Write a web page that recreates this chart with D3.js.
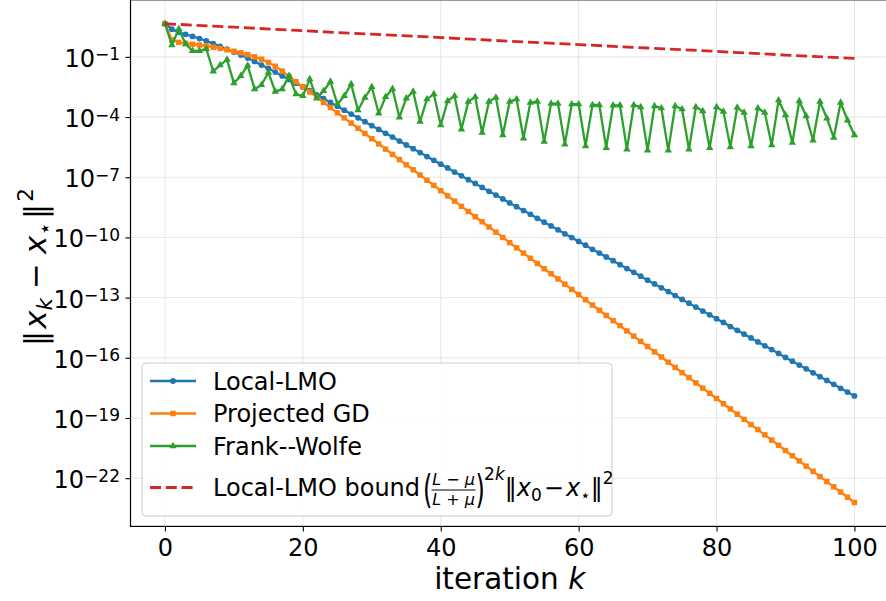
<!DOCTYPE html>
<html>
<head>
<meta charset="utf-8">
<script src="https://cdn.jsdelivr.net/npm/d3@7"></script>
<style>
  body { margin: 0; background: #fff; }
  svg { display: block; font-family: "DejaVu Sans", sans-serif; }
</style>
</head>
<body>
<svg id="chart" width="886" height="601"></svg>
<script>
// ---------------- DATA (log10 of ||x_k - x*||^2) ----------------
const iterations = d3.range(0, 101);

const localLmoLog10 = [
  0.65, 0.38, 0.22, 0.12, 0.02, -0.09, -0.21, -0.34, -0.48, -0.62,
  -0.76, -0.91, -1.06, -1.23, -1.41, -1.58, -1.76, -1.95, -2.13, -2.31,
  -2.50, -2.69, -2.89, -3.08, -3.27, -3.46, -3.66, -3.85, -4.04, -4.23,
  -4.43, -4.62, -4.81, -5.00, -5.20, -5.39, -5.58, -5.77, -5.97, -6.16,
  -6.35, -6.54, -6.74, -6.93, -7.12, -7.31, -7.51, -7.70, -7.89, -8.08,
  -8.28, -8.47, -8.66, -8.85, -9.05, -9.24, -9.43, -9.62, -9.82, -10.01,
  -10.20, -10.39, -10.59, -10.78, -10.97, -11.16, -11.36, -11.55, -11.74, -11.93,
  -12.13, -12.32, -12.51, -12.70, -12.90, -13.09, -13.28, -13.47, -13.67, -13.86,
  -14.05, -14.24, -14.44, -14.63, -14.82, -15.01, -15.21, -15.40, -15.59, -15.78,
  -15.98, -16.17, -16.36, -16.55, -16.75, -16.94, -17.13, -17.32, -17.52, -17.71,
  -17.90
];

const projectedGdLog10 = [
  0.65, -0.16, -0.28, -0.33, -0.37, -0.41, -0.46, -0.52, -0.58, -0.65,
  -0.72, -0.80, -0.89, -1.00, -1.12, -1.28, -1.47, -1.71, -1.98, -2.24,
  -2.49, -2.75, -3.01, -3.27, -3.53, -3.79, -4.04, -4.30, -4.56, -4.82,
  -5.08, -5.34, -5.60, -5.86, -6.12, -6.38, -6.63, -6.89, -7.15, -7.41,
  -7.67, -7.93, -8.19, -8.45, -8.71, -8.97, -9.22, -9.48, -9.74, -10.00,
  -10.26, -10.52, -10.78, -11.04, -11.30, -11.56, -11.81, -12.07, -12.33, -12.59,
  -12.85, -13.11, -13.37, -13.63, -13.89, -14.15, -14.40, -14.66, -14.92, -15.18,
  -15.44, -15.70, -15.96, -16.22, -16.48, -16.74, -16.99, -17.25, -17.51, -17.77,
  -18.03, -18.29, -18.55, -18.81, -19.07, -19.33, -19.58, -19.84, -20.10, -20.36,
  -20.62, -20.88, -21.14, -21.40, -21.66, -21.92, -22.17, -22.43, -22.69, -22.95,
  -23.21
];

const frankWolfeLog10 = [
  0.65, -0.41, 0.39, -0.36, -0.70, -0.70, -0.61, -1.72, -1.41, -1.14,
  -2.31, -1.95, -1.43, -2.61, -2.40, -1.78, -2.73, -2.61, -1.95, -2.86,
  -2.95, -2.11, -3.07, -2.70, -2.23, -3.36, -2.95, -2.36, -3.66, -3.03,
  -2.50, -3.82, -3.00, -2.59, -4.01, -3.07, -2.73, -4.23, -3.11, -2.86,
  -4.40, -3.20, -2.95, -4.61, -3.23, -3.00, -4.78, -3.23, -3.03, -4.90,
  -3.23, -3.11, -5.06, -3.28, -3.23, -5.23, -3.33, -3.33, -5.36, -3.36,
  -3.36, -5.45, -3.40, -3.40, -5.53, -3.42, -3.42, -5.61, -3.40, -3.50,
  -5.66, -3.45, -3.56, -5.66, -3.45, -3.61, -5.61, -3.50, -3.70, -5.53,
  -3.50, -3.73, -5.50, -3.53, -3.78, -5.45, -3.56, -3.78, -5.40, -3.16,
  -3.90, -5.28, -3.20, -3.95, -5.16, -3.23, -4.06, -5.03, -3.28, -4.16,
  -4.90
];

// bound line (straight on the log axis) read at every 10 iterations
const boundIterations = [0, 10, 20, 30, 40, 50, 60, 70, 80, 90, 100];
const boundLog10 = [0.65, 0.48, 0.30, 0.13, -0.04, -0.22, -0.39, -0.56, -0.73, -0.91, -1.08];

const xTickValues = [0, 20, 40, 60, 80, 100];
const yTickExponents = [-22, -19, -16, -13, -10, -7, -4, -1];

const seriesNames = ["Local-LMO", "Projected GD", "Frank--Wolfe"];
const boundName = "Local-LMO bound";

// ---------------- CHART ----------------
const svg = d3.select("#chart");
const colors = ["#1f77b4", "#ff7f0e", "#2ca02c"];
const red = "#d62728";

const series = [
  { name: seriesNames[0], color: colors[0], marker: "circle",
    pts: iterations.map((k, i) => [k, Math.pow(10, localLmoLog10[i])]) },
  { name: seriesNames[1], color: colors[1], marker: "square",
    pts: iterations.map((k, i) => [k, Math.pow(10, projectedGdLog10[i])]) },
  { name: seriesNames[2], color: colors[2], marker: "triangle",
    pts: iterations.map((k, i) => [k, Math.pow(10, frankWolfeLog10[i])]) }
];
const boundPts = boundIterations.map((k, i) => [k, Math.pow(10, boundLog10[i])]);

// axes box
const L = 130.5, R = 888.9, T = -0.2, B = 526.4;
const xMin = d3.min(iterations), xMax = d3.max(iterations);
const xPad = (xMax - xMin) * 0.05;
const x = d3.scaleLinear().domain([xMin - xPad, xMax + xPad]).range([L, R]);

const allLog = localLmoLog10.concat(projectedGdLog10, frankWolfeLog10, boundLog10);
const lo = d3.min(allLog), hi = d3.max(allLog);
const yPad = (hi - lo) * 0.05;
const y = d3.scaleLog().domain([Math.pow(10, lo - yPad), Math.pow(10, hi + yPad)]).range([B, T]);

const yTicks = yTickExponents.map(e => Math.pow(10, e));

// grid
const grid = svg.append("g");
grid.selectAll("line.gx").data(xTickValues).join("line")
  .attr("x1", d => x(d)).attr("x2", d => x(d)).attr("y1", B).attr("y2", T)
  .attr("stroke", "#b0b0b0").attr("stroke-opacity", 0.3).attr("stroke-width", 1);
grid.selectAll("line.gy").data(yTicks).join("line")
  .attr("x1", L).attr("x2", R).attr("y1", d => y(d)).attr("y2", d => y(d))
  .attr("stroke", "#b0b0b0").attr("stroke-opacity", 0.3).attr("stroke-width", 1);

// series
const line = d3.line().x(d => x(d[0])).y(d => y(d[1]));
const sym = {
  circle: d3.symbol(d3.symbolCircle, 26),
  square: d3.symbol(d3.symbolSquare, 30),
  triangle: d3.symbol(d3.symbolTriangle, 24)
};

series.forEach(s => {
  const g = svg.append("g");
  g.append("path").datum(s.pts).attr("d", line)
    .attr("fill", "none").attr("stroke", s.color).attr("stroke-width", 2.3)
    .attr("stroke-linejoin", "round");
  g.selectAll("path.m").data(s.pts).join("path")
    .attr("transform", d => `translate(${x(d[0])},${y(d[1])})`)
    .attr("d", sym[s.marker]())
    .attr("fill", s.color);
});

svg.append("path").datum(boundPts).attr("d", line)
  .attr("fill", "none").attr("stroke", red).attr("stroke-width", 2.8)
  .attr("stroke-dasharray", "11,4.8");

// spines
svg.append("rect").attr("x", L).attr("y", T).attr("width", R - L).attr("height", B - T)
  .attr("fill", "none").attr("stroke", "#000").attr("stroke-width", 1.2);

// x axis
const xAxis = d3.axisBottom(x).tickValues(xTickValues).tickSize(5).tickPadding(7.6)
  .tickFormat(d3.format("d"));
const gx = svg.append("g").attr("transform", `translate(0,${B})`).call(xAxis);
gx.select(".domain").remove();
gx.selectAll(".tick line").attr("stroke", "#000").attr("stroke-width", 1.1);
gx.selectAll(".tick text").attr("font-size", 24).attr("font-family", "DejaVu Sans").attr("fill", "#000");

// y axis
const yAxis = d3.axisLeft(y).tickValues(yTicks).tickSize(5).tickFormat("");
const gy = svg.append("g").attr("transform", `translate(${L},0)`).call(yAxis);
gy.select(".domain").remove();
gy.selectAll(".tick line").attr("stroke", "#000").attr("stroke-width", 1.1);
gy.selectAll(".tick text").remove();
gy.selectAll(".tick").each(function(d, i) {
  const t = d3.select(this).append("text")
    .attr("x", -10.5).attr("y", 9.5).attr("text-anchor", "end")
    .attr("font-size", 24).attr("font-family", "DejaVu Sans").attr("fill", "#000");
  t.append("tspan").text("10");
  t.append("tspan").attr("font-size", 17).attr("dy", -6.5)
    .text("\u2212" + Math.abs(yTickExponents[i]));
});

// axis labels
const xl = svg.append("text").attr("x", (L + R) / 2).attr("y", 589)
  .attr("text-anchor", "middle").attr("font-size", 29.5).attr("fill", "#000");
xl.append("tspan").text("iteration ");
xl.append("tspan").attr("font-style", "italic").text("k");

const yl = svg.append("text")
  .attr("transform", `translate(46,${(T + B) / 2 + 4}) rotate(-90)`)
  .attr("text-anchor", "middle").attr("font-size", 31).attr("fill", "#000");
yl.append("tspan").text("\u2016");
yl.append("tspan").attr("font-style", "italic").attr("dx", 2).text("x");
yl.append("tspan").attr("font-style", "italic").attr("font-size", 21.5).attr("dy", 6).text("k");
yl.append("tspan").attr("dy", -6).attr("dx", 9).text("\u2212");
yl.append("tspan").attr("font-style", "italic").attr("dx", 9).text("x");
yl.append("tspan").attr("font-size", 21.5).attr("dy", 6).text("\u22C6");
yl.append("tspan").attr("dy", -6).attr("dx", 3).text("\u2016");
yl.append("tspan").attr("font-size", 21.5).attr("dy", -13).attr("dx", 2).text("2");

// legend
const leg = svg.append("g");
leg.append("rect").attr("x", 142).attr("y", 363).attr("width", 470).attr("height", 153)
  .attr("rx", 4).attr("fill", "#fff").attr("fill-opacity", 0.8)
  .attr("stroke", "#cccccc").attr("stroke-width", 1);

const rowY = [381, 413.5, 446];
series.forEach((s, i) => {
  leg.append("line").attr("x1", 150).attr("x2", 196).attr("y1", rowY[i]).attr("y2", rowY[i])
    .attr("stroke", s.color).attr("stroke-width", 2.3);
  leg.append("path").attr("transform", `translate(173,${rowY[i]})`)
    .attr("d", sym[s.marker]()).attr("fill", s.color);
  leg.append("text").attr("x", 213).attr("y", rowY[i] + 8.5)
    .attr("font-size", 24).attr("fill", "#000").text(s.name);
});

const by = 487.5;
leg.append("line").attr("x1", 150).attr("x2", 196).attr("y1", by).attr("y2", by)
  .attr("stroke", red).attr("stroke-width", 2.8).attr("stroke-dasharray", "11,4.8");
const t1 = leg.append("text").attr("x", 213).attr("y", 495.5)
  .attr("font-size", 24).attr("fill", "#000").text(boundName);
let cx = 213 + t1.node().getComputedTextLength() + 3;
leg.append("text").attr("transform", `translate(${cx},502.5) scale(1.0,1.6)`)
  .attr("font-size", 24).attr("fill", "#000").text("(");
cx += 8.5;
const fw = 44;
const num = leg.append("text").attr("x", cx + fw / 2).attr("y", 485).attr("text-anchor", "middle")
  .attr("font-size", 16).attr("fill", "#000");
num.append("tspan").attr("font-style", "italic").text("L");
num.append("tspan").text(" \u2212 ");
num.append("tspan").attr("font-style", "italic").text("\u03BC");
leg.append("line").attr("x1", cx).attr("x2", cx + fw).attr("y1", 490).attr("y2", 490)
  .attr("stroke", "#000").attr("stroke-width", 1);
const den = leg.append("text").attr("x", cx + fw / 2).attr("y", 504.5).attr("text-anchor", "middle")
  .attr("font-size", 16).attr("fill", "#000");
den.append("tspan").attr("font-style", "italic").text("L");
den.append("tspan").text(" + ");
den.append("tspan").attr("font-style", "italic").text("\u03BC");
cx += fw;
leg.append("text").attr("transform", `translate(${cx},502.5) scale(1.0,1.6)`)
  .attr("font-size", 24).attr("fill", "#000").text(")");
cx += 8.5;
const sup = leg.append("text").attr("x", cx).attr("y", 480).attr("font-size", 17).attr("fill", "#000");
sup.append("tspan").text("2");
sup.append("tspan").attr("font-style", "italic").text("k");
cx += sup.node().getComputedTextLength();
const rest = leg.append("text").attr("x", cx).attr("y", 495.5).attr("font-size", 24).attr("fill", "#000");
rest.append("tspan").text("\u2016");
rest.append("tspan").attr("font-style", "italic").text("x");
rest.append("tspan").attr("font-size", 17).attr("dy", 5).text("0");
rest.append("tspan").attr("dy", -5).attr("dx", 2).text("\u2212");
rest.append("tspan").attr("font-style", "italic").attr("dx", 2).text("x");
rest.append("tspan").attr("font-size", 17).attr("dy", 5).text("\u22C6");
rest.append("tspan").attr("dy", -5).text("\u2016");
rest.append("tspan").attr("font-size", 17).attr("dy", -12).text("2");
</script>
</body>
</html>
